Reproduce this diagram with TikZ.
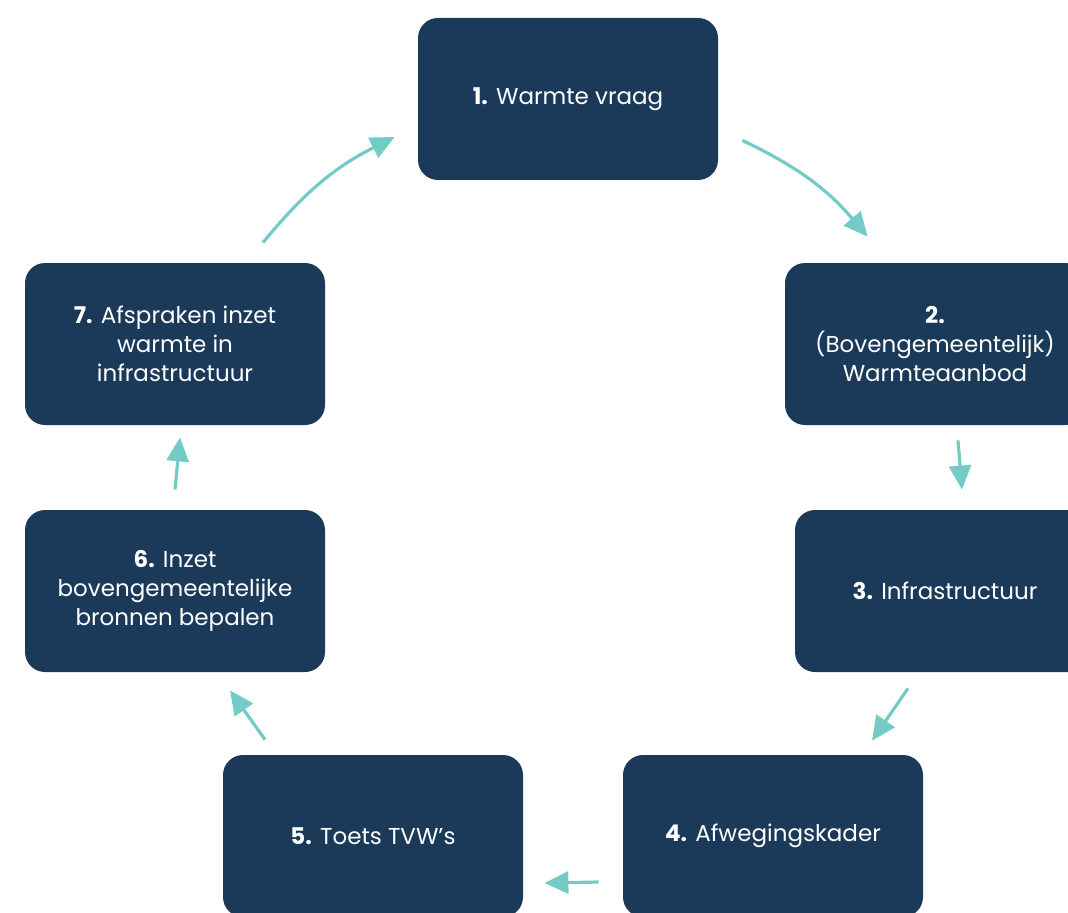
\documentclass[tikz,border=0pt]{standalone}
\usepackage{fontspec}
\setmainfont{Poppins}
\usetikzlibrary{arrows.meta,calc}
\definecolor{boxblue}{HTML}{1B3A5A}
\definecolor{flowteal}{HTML}{74CBC6}
\begin{document}
\begin{tikzpicture}[
        x=0.5pt, y=0.5pt,
        stepbox/.style={fill=boxblue, rounded corners=10pt,
            minimum width=150pt, minimum height=81pt, text=white,
            align=center, font=\fontsize{11.5}{14.5}\selectfont},
        flow/.style={draw=flowteal, line width=1.6pt,
            -{Triangle[length=12pt, width=11pt]}},
    ]
    \useasboundingbox (0,0) rectangle (1068,912);
    \clip (0,0) rectangle (1068,912);
    \node[stepbox] (w1) at (568,813) {\textbf{1.} Warmte vraag};
    \node[stepbox] (w2) at (935,568) {\textbf{2.}\\(Bovengemeentelijk)\\Warmteaanbod};
    \node[stepbox] (w3) at (945,321) {\textbf{3.} Infrastructuur};
    \node[stepbox] (w4) at (773,76) {\textbf{4.} Afwegingskader};
    \node[stepbox] (w5) at (373,76) {\textbf{5.} Toets TVW’s};
    \node[stepbox] (w6) at (175,321) {\textbf{6.} Inzet\\bovengemeentelijke\\bronnen bepalen};
    \node[stepbox] (w7) at (175,568) {\textbf{7.} Afspraken inzet\\warmte in\\infrastructuur};
    \draw[flow] ([shift={(24,40)}]w1.south east) to[bend left=12] ([shift={(83,26)}]w2.north west);
    \draw[flow] ([shift={(23,-15)}]w2.south) -- ([shift={(17,20)}]w3.north);
    \draw[flow] ([shift={(-37,-16)}]w3.south) -- ([shift={(99,14)}]w4.north);
    \draw[flow] ([shift={(-24,-46)}]w4.west) -- ([shift={(21,-47)}]w5.east);
    \draw[flow] ([shift={(-108,15)}]w5.north) -- ([shift={(55,-18)}]w6.south);
    \draw[flow] ([shift={(0,20)}]w6.north) -- ([shift={(5,-12)}]w7.south);
    \draw[flow] ([shift={(88,20)}]w7.north) to[bend left=12] ([shift={(-23,-38)}]w1.west);
\end{tikzpicture}
\end{document}
